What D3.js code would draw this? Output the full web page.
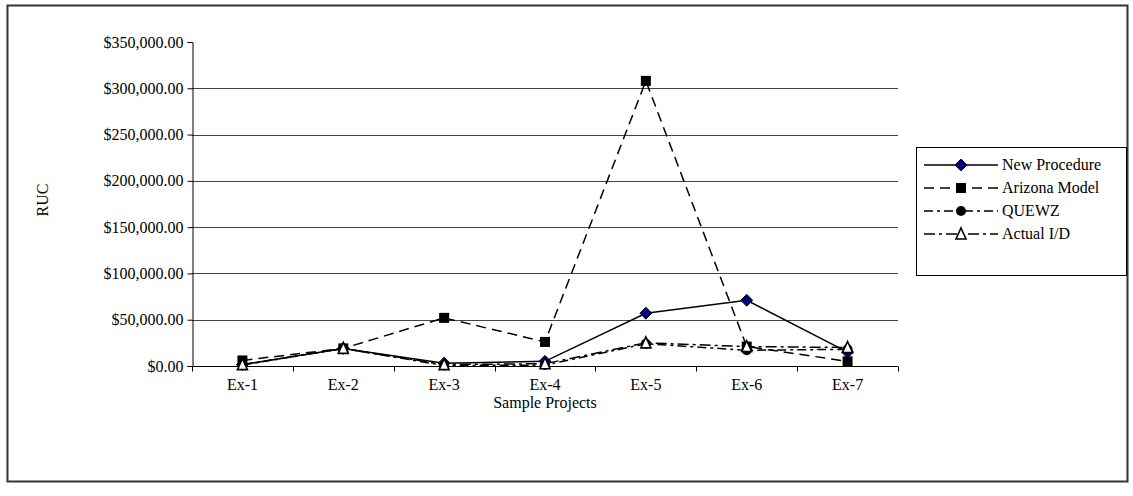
<!DOCTYPE html>
<html>
<head>
<meta charset="utf-8">
<script src="https://cdn.jsdelivr.net/npm/d3@7"></script>
<style>
  body { margin: 0; background: #fff; }
  svg text { font-family: "Liberation Serif", "Times New Roman", "DejaVu Serif", serif !important; fill: #000; }
</style>
</head>
<body>
<div id="chart"></div>
<script>
var categories = ["Ex-1", "Ex-2", "Ex-3", "Ex-4", "Ex-5", "Ex-6", "Ex-7"];
var newProcedure = [1500, 19000, 3000, 5000, 57000, 71000, 15000];
var arizonaModel = [6000, 19000, 52000, 26000, 308000, 21000, 5000];
var quewz = [1000, 19000, 500, 1000, 24000, 17000, 18000];
var actualID = [1500, 19000, 1500, 2500, 25000, 21000, 20000];
var yTicks = [0, 50000, 100000, 150000, 200000, 250000, 300000, 350000];

var W = 1133, H = 496;
var margin = {top: 42, left: 192, bottom: 130, right: 235};
var serif = '"Liberation Serif", "Times New Roman", "DejaVu Serif", serif';

var series = [
  {name: "New Procedure", values: newProcedure, dash: null, marker: "diamond"},
  {name: "Arizona Model", values: arizonaModel, dash: "10,6", marker: "square"},
  {name: "QUEWZ", values: quewz, dash: "9,4,3,4", marker: "circle"},
  {name: "Actual I/D", values: actualID, dash: "11,4,3,4", marker: "triangle"}
];

var svg = d3.select("#chart").append("svg")
  .attr("width", W)
  .attr("height", H)
  .style("font-family", serif);

// outer frame
svg.append("rect")
  .attr("x", 7.5).attr("y", 5.5)
  .attr("width", 1120).attr("height", 476)
  .attr("fill", "none")
  .attr("stroke", "#333")
  .attr("stroke-width", 2);

var x = d3.scaleBand()
  .domain(categories)
  .range([margin.left, W - margin.right]);

var y = d3.scaleLinear()
  .domain([0, 350000])
  .range([H - margin.bottom, margin.top]);

var fmt = d3.format("$,.2f");

// gridlines
svg.append("g")
  .selectAll("line")
  .data(yTicks.filter(function(d) { return d > 0 && d < 350000; }))
  .enter().append("line")
  .attr("x1", margin.left).attr("x2", W - margin.right)
  .attr("y1", function(d) { return Math.round(y(d)) + 0.5; })
  .attr("y2", function(d) { return Math.round(y(d)) + 0.5; })
  .attr("stroke", "#444")
  .attr("stroke-width", 1);

// y axis
var yAxis = svg.append("g")
  .attr("transform", "translate(" + (margin.left + 0.5) + ",0)")
  .call(d3.axisLeft(y).tickValues(yTicks).tickFormat(fmt).tickSize(5).tickPadding(4));
yAxis.attr("font-family", serif);
yAxis.selectAll("text").style("font-size", "16px").style("font-family", serif);

// x axis with ticks between categories
var xAxis = svg.append("g")
  .attr("transform", "translate(0," + (Math.round(y(0)) + 0.5) + ")")
  .call(d3.axisBottom(x).tickSize(0).tickPadding(12));
xAxis.attr("font-family", serif);
xAxis.selectAll("text").style("font-size", "16px").style("font-family", serif);
xAxis.select(".domain").attr("d", "M" + margin.left + ",0H" + (W - margin.right));
xAxis.selectAll(".sep")
  .data(categories.map(function(d) { return x(d); }).concat([W - margin.right]))
  .enter().append("line")
  .attr("x1", function(d) { return Math.round(d) + 0.5; })
  .attr("x2", function(d) { return Math.round(d) + 0.5; })
  .attr("y1", 0).attr("y2", 5)
  .attr("stroke", "#000");

svg.selectAll(".domain").attr("stroke", "#000");

// axis titles
svg.append("text")
  .attr("x", (margin.left + W - margin.right) / 2)
  .attr("y", 408)
  .attr("text-anchor", "middle")
  .style("font-size", "16px")
  .style("font-family", serif)
  .text("Sample Projects");

svg.append("text")
  .attr("transform", "translate(48," + 200 + ") rotate(-90)")
  .attr("text-anchor", "middle")
  .style("font-size", "16px")
  .style("font-family", serif)
  .text("RUC");

function drawMarker(g, type, size) {
  if (type === "diamond") {
    g.append("path").attr("d", d3.symbol(d3.symbolDiamond2, size * size * 0.9)())
      .attr("fill", "#000080").attr("stroke", "#000").attr("stroke-width", 1);
  } else if (type === "square") {
    g.append("rect").attr("x", -size / 2).attr("y", -size / 2)
      .attr("width", size).attr("height", size).attr("fill", "#000");
  } else if (type === "circle") {
    g.append("circle").attr("r", size / 2).attr("fill", "#000");
  } else {
    g.append("path").attr("d", "M0," + (-size / 2 - 1) + "L" + (size / 2) + "," + (size / 2) + "L" + (-size / 2) + "," + (size / 2) + "Z")
      .attr("fill", "#fff").attr("stroke", "#000").attr("stroke-width", 1.6);
  }
}

var line = d3.line()
  .x(function(d, i) { return x(categories[i]) + x.bandwidth() / 2; })
  .y(function(d) { return y(d); });

series.forEach(function(s) {
  svg.append("path")
    .datum(s.values)
    .attr("d", line)
    .attr("fill", "none")
    .attr("stroke", "#000")
    .attr("stroke-width", 1.5)
    .attr("stroke-dasharray", s.dash);
});
series.forEach(function(s) {
  s.values.forEach(function(v, i) {
    var g = svg.append("g")
      .attr("transform", "translate(" + (x(categories[i]) + x.bandwidth() / 2) + "," + y(v) + ")");
    drawMarker(g, s.marker, 10);
  });
});

// legend
var lg = svg.append("g").attr("transform", "translate(916,147)");
lg.append("rect")
  .attr("x", 0.5).attr("y", 0.5)
  .attr("width", 210).attr("height", 128)
  .attr("fill", "#fff").attr("stroke", "#000").attr("stroke-width", 1);

series.forEach(function(s, i) {
  var row = lg.append("g").attr("transform", "translate(0," + (18 + i * 23) + ")");
  row.append("line")
    .attr("x1", 8).attr("x2", 82)
    .attr("stroke", "#000").attr("stroke-width", 1.5)
    .attr("stroke-dasharray", s.dash);
  drawMarker(row.append("g").attr("transform", "translate(45,0)"), s.marker, 10);
  row.append("text")
    .attr("x", 86).attr("y", 5)
    .style("font-size", "16px")
    .style("font-family", serif)
    .text(s.name);
});
</script>
</body>
</html>
